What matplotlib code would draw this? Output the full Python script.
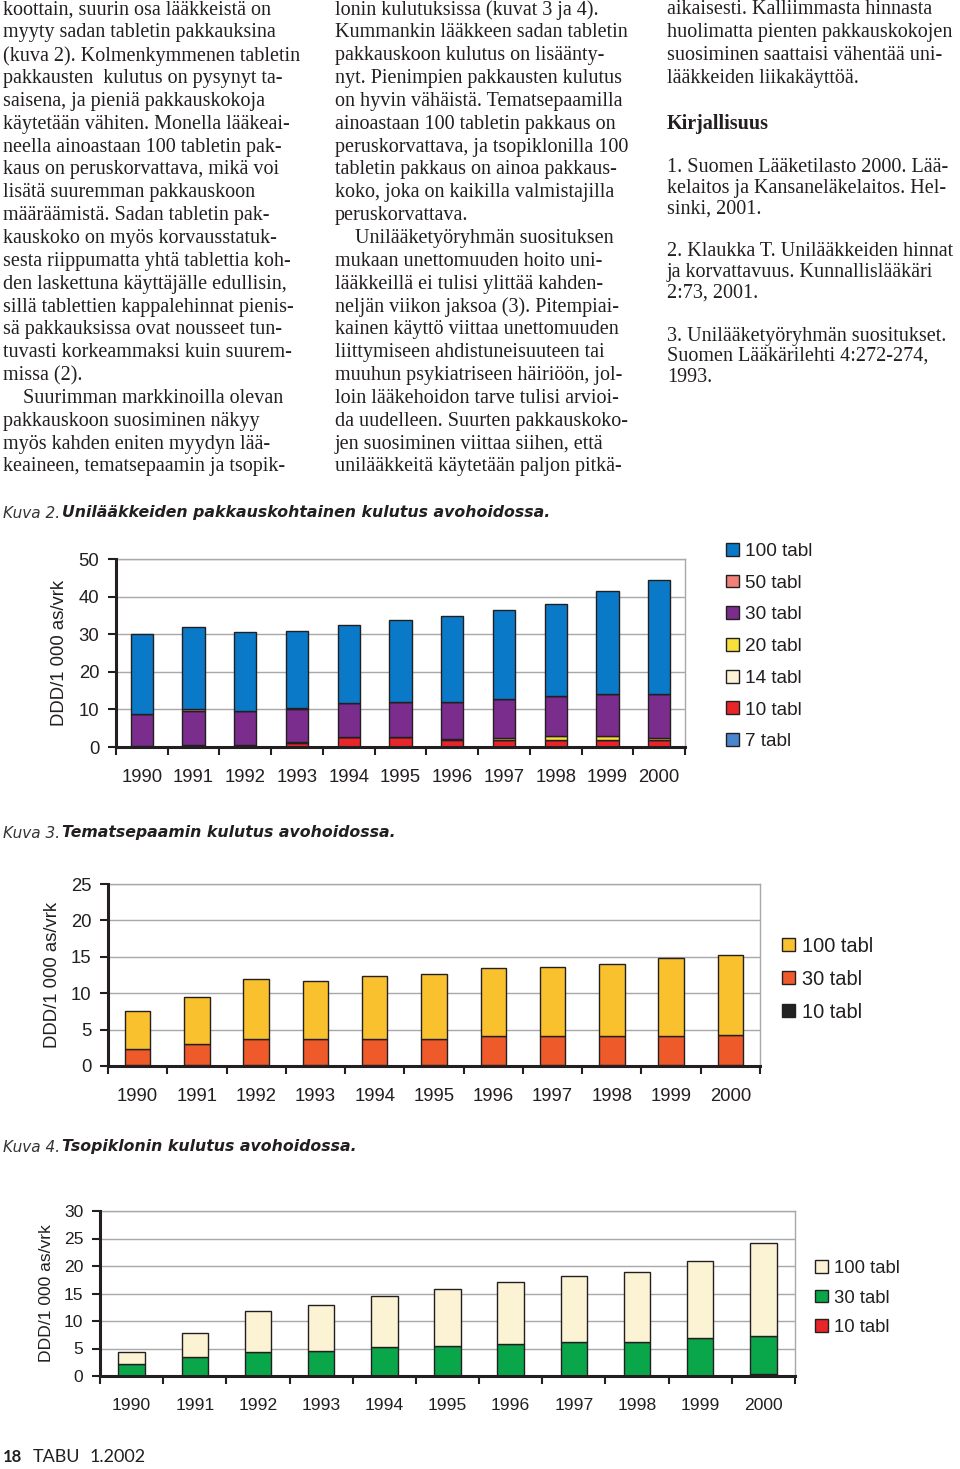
import matplotlib
matplotlib.use("Agg")
import numpy as np
import matplotlib.pyplot as plt
from matplotlib.patches import Patch

# Page size in pixels
W, H = 960, 1469

YEARS = ["1990", "1991", "1992", "1993", "1994", "1995", "1996", "1997", "1998", "1999", "2000"]

# Kuva 2 - stacked from the bottom: 7, 10, 14, 20, 30, 50, 100 tabl
K2_7 = [0, 0, 0, 0, 0, 0, 0, 0, 0, 0, 0]
K2_10 = [0.2, 0.4, 0.4, 1.0, 2.7, 2.7, 1.8, 1.8, 1.8, 1.8, 1.8]
K2_14 = [0, 0, 0, 0.2, 0, 0, 0.4, 0, 0, 0, 0]
K2_20 = [0, 0, 0, 0, 0, 0, 0, 0.6, 1.2, 1.2, 0.7]
K2_30 = [8.6, 9.2, 9.2, 8.8, 8.9, 9.3, 9.8, 10.4, 10.6, 11.0, 11.5]
K2_50 = [0, 0.4, 0, 0.4, 0, 0, 0, 0, 0, 0, 0]
K2_100 = [21.2, 22.0, 20.9, 20.5, 20.8, 21.7, 22.8, 23.6, 24.4, 27.6, 30.4]
K2_LABELS = ["7 tabl", "10 tabl", "14 tabl", "20 tabl", "30 tabl", "50 tabl", "100 tabl"]
K2_COLORS = ["#4a86d0", "#e8262a", "#fcf3d6", "#f7e03a", "#7a2d8c", "#f08078", "#0a79c8"]

# Kuva 3 - tematsepaami
K3_10 = [0.1, 0.1, 0.1, 0.1, 0.1, 0.1, 0.1, 0.1, 0.1, 0.1, 0.1]
K3_30 = [2.3, 2.9, 3.6, 3.6, 3.6, 3.6, 4.0, 4.0, 4.0, 4.0, 4.2]
K3_100 = [5.2, 6.5, 8.2, 8.0, 8.6, 9.0, 9.3, 9.5, 9.9, 10.8, 11.0]
K3_LABELS = ["10 tabl", "30 tabl", "100 tabl"]
K3_COLORS = ["#222222", "#ef5a2b", "#f9c12e"]

# Kuva 4 - tsopikloni
K4_10 = [0, 0, 0, 0, 0, 0, 0, 0, 0, 0, 0.4]
K4_30 = [2.1, 3.4, 4.4, 4.6, 5.2, 5.4, 5.9, 6.2, 6.2, 7.0, 6.9]
K4_100 = [2.3, 4.4, 7.5, 8.3, 9.3, 10.4, 11.2, 11.9, 12.7, 14.0, 16.8]
K4_LABELS = ["10 tabl", "30 tabl", "100 tabl"]
K4_COLORS = ["#e8262a", "#0aa64a", "#fbf3d4"]

COL1 = [
    "koottain, suurin osa lääkkeistä on",
    "myyty sadan tabletin pakkauksina",
    "(kuva 2). Kolmenkymmenen tabletin",
    "pakkausten  kulutus on pysynyt ta-",
    "saisena, ja pieniä pakkauskokoja",
    "käytetään vähiten. Monella lääkeai-",
    "neella ainoastaan 100 tabletin pak-",
    "kaus on peruskorvattava, mikä voi",
    "lisätä suuremman pakkauskoon",
    "määräämistä. Sadan tabletin pak-",
    "kauskoko on myös korvausstatuk-",
    "sesta riippumatta yhtä tablettia koh-",
    "den laskettuna käyttäjälle edullisin,",
    "sillä tablettien kappalehinnat pienis-",
    "sä pakkauksissa ovat nousseet tun-",
    "tuvasti korkeammaksi kuin suurem-",
    "missa (2).",
    "    Suurimman markkinoilla olevan",
    "pakkauskoon suosiminen näkyy",
    "myös kahden eniten myydyn lää-",
    "keaineen, tematsepaamin ja tsopik-",
]
COL2 = [
    "lonin kulutuksissa (kuvat 3 ja 4).",
    "Kummankin lääkkeen sadan tabletin",
    "pakkauskoon kulutus on lisäänty-",
    "nyt. Pienimpien pakkausten kulutus",
    "on hyvin vähäistä. Tematsepaamilla",
    "ainoastaan 100 tabletin pakkaus on",
    "peruskorvattava, ja tsopiklonilla 100",
    "tabletin pakkaus on ainoa pakkaus-",
    "koko, joka on kaikilla valmistajilla",
    "peruskorvattava.",
    "    Unilääketyöryhmän suosituksen",
    "mukaan unettomuuden hoito uni-",
    "lääkkeillä ei tulisi ylittää kahden-",
    "neljän viikon jaksoa (3). Pitempiai-",
    "kainen käyttö viittaa unettomuuden",
    "liittymiseen ahdistuneisuuteen tai",
    "muuhun psykiatriseen häiriöön, jol-",
    "loin lääkehoidon tarve tulisi arvioi-",
    "da uudelleen. Suurten pakkauskoko-",
    "jen suosiminen viittaa siihen, että",
    "unilääkkeitä käytetään paljon pitkä-",
]
COL3 = [
    (10, "aikaisesti. Kalliimmasta hinnasta", "normal"),
    (33, "huolimatta pienten pakkauskokojen", "normal"),
    (56, "suosiminen saattaisi vähentää uni-", "normal"),
    (79, "lääkkeiden liikakäyttöä.", "normal"),
    (124, "Kirjallisuus", "bold"),
    (167, "1. Suomen Lääketilasto 2000. Lää-", "normal"),
    (188, "kelaitos ja Kansaneläkelaitos. Hel-", "normal"),
    (209, "sinki, 2001.", "normal"),
    (251, "2. Klaukka T. Unilääkkeiden hinnat", "normal"),
    (272, "ja korvattavuus. Kunnallislääkäri", "normal"),
    (293, "2:73, 2001.", "normal"),
    (336, "3. Unilääketyöryhmän suositukset.", "normal"),
    (356, "Suomen Lääkärilehti 4:272-274,", "normal"),
    (377, "1993.", "normal"),
]

SERIF = "Liberation Serif"
SANS = "Liberation Sans"
TEXT_COLOR = "#231f20"
BODY_SIZE = 14.5


def fx(x):
    return x / W


def fy(y):
    return 1 - y / H


def add_axes_px(fig, left, top, right, bottom):
    return fig.add_axes([fx(left), fy(bottom), (right - left) / W, (bottom - top) / H])


def draw_body_text(fig):
    for i, line in enumerate(COL1):
        fig.text(fx(3), fy(10 + i * 22.85), line, family=SERIF, fontsize=BODY_SIZE,
                 color=TEXT_COLOR, va="center", ha="left")
    for i, line in enumerate(COL2):
        fig.text(fx(335), fy(10 + i * 22.85), line, family=SERIF, fontsize=BODY_SIZE,
                 color=TEXT_COLOR, va="center", ha="left")
    for y, line, weight in COL3:
        fig.text(fx(667), fy(y), line, family=SERIF, fontsize=BODY_SIZE, weight=weight,
                 color=TEXT_COLOR, va="center", ha="left")


def draw_caption(fig, y, num, title):
    fig.text(fx(3), fy(y), f"Kuva {num}.", family="DejaVu Sans", style="italic",
             fontsize=11, color="#333333", va="center")
    fig.text(fx(62), fy(y), title, family="DejaVu Sans", style="italic", weight="bold",
             fontsize=11.3, color=TEXT_COLOR, va="center")


def stacked_chart(fig, box, series, colors, labels, ymax, ystep, bar_width,
                  tick_px, legend_px, ylabel_x, legend_xy, legend_gap):
    left, top, right, bottom = box
    ax = add_axes_px(fig, left, top, right, bottom)
    x = np.arange(len(YEARS))
    base = np.zeros(len(YEARS))
    handles = []
    for vals, color, label in zip(series, colors, labels):
        vals = np.array(vals, dtype=float)
        ax.bar(x, vals, bar_width, bottom=base, color=color, edgecolor="#231f20",
               linewidth=1.0, zorder=3)
        base += vals
        handles.append(Patch(facecolor=color, edgecolor="#231f20", linewidth=1.0, label=label))

    fs = tick_px * 0.72
    ax.set_xlim(-0.5, len(YEARS) - 0.5)
    ax.set_ylim(0, ymax)
    ax.set_yticks(np.arange(0, ymax + 0.1, ystep))
    ax.set_yticklabels([str(int(v)) for v in np.arange(0, ymax + 0.1, ystep)],
                       family=SANS, fontsize=fs, color=TEXT_COLOR)
    ax.tick_params(axis="y", direction="out", length=6, width=1.5, color="#231f20", pad=6)

    ax.set_xticks(np.arange(-0.5, len(YEARS)), minor=False)
    ax.set_xticklabels([])
    ax.set_xticks(x, minor=True)
    ax.set_xticklabels(YEARS, minor=True, family=SANS, fontsize=fs, color=TEXT_COLOR)
    ax.tick_params(axis="x", which="major", direction="out", length=6, width=1.5,
                   color="#231f20")
    ax.tick_params(axis="x", which="minor", length=0, pad=16)

    ax.grid(axis="y", color="#a8a8a8", linewidth=1.0, zorder=0)
    ax.set_axisbelow(True)
    for side in ("left", "bottom"):
        ax.spines[side].set_color("#231f20")
        ax.spines[side].set_linewidth(2.2)
        ax.spines[side].set_zorder(4)
    for side in ("top", "right"):
        ax.spines[side].set_color("#a8a8a8")
        ax.spines[side].set_linewidth(1.0)

    fig.text(fx(ylabel_x), fy((top + bottom) / 2), "DDD/1 000 as/vrk", family=SANS,
             fontsize=fs, rotation=90, ha="center", va="center", color=TEXT_COLOR)

    # legend: squares about 12 px, order reversed like the original
    lfs = legend_px * 0.72
    hl = 12.5 / legend_px
    fig.legend(handles[::-1], labels[::-1], loc="upper left",
               bbox_to_anchor=(fx(legend_xy[0]), fy(legend_xy[1])), frameon=False,
               prop={"family": SANS, "size": lfs}, handlelength=hl, handleheight=hl,
               handletextpad=0.35, labelspacing=legend_gap, borderpad=0, borderaxespad=0,
               labelcolor=TEXT_COLOR)
    return ax


def main():
    fig = plt.figure(figsize=(W / 100, H / 100), dpi=100)
    fig.patch.set_facecolor("white")

    draw_body_text(fig)

    draw_caption(fig, 513, 2, "Unilääkkeiden pakkauskohtainen kulutus avohoidossa.")
    stacked_chart(fig, (116, 559, 685, 747),
                  [K2_7, K2_10, K2_14, K2_20, K2_30, K2_50, K2_100],
                  K2_COLORS, K2_LABELS, 50, 10, 0.43, 18.5, 19, 60, (726, 543), 0.77)

    draw_caption(fig, 833, 3, "Tematsepaamin kulutus avohoidossa.")
    stacked_chart(fig, (108, 884, 760, 1066),
                  [K3_10, K3_30, K3_100],
                  K3_COLORS, K3_LABELS, 25, 5, 0.43, 18.5, 20, 53, (782, 937), 0.7)

    draw_caption(fig, 1147, 4, "Tsopiklonin kulutus avohoidossa.")
    stacked_chart(fig, (100, 1211, 795, 1376),
                  [K4_10, K4_30, K4_100],
                  K4_COLORS, K4_LABELS, 30, 5, 0.42, 17.5, 18.5, 47, (815, 1260), 0.68)

    fig.text(fx(3), fy(1457), "18", family="Lato", weight="bold", fontsize=12,
             color=TEXT_COLOR, va="center")
    fig.text(fx(33), fy(1457), "TABU", family="Lato", fontsize=13,
             color=TEXT_COLOR, va="center")
    fig.text(fx(90), fy(1457), "1.2002", family="Lato", fontsize=13,
             color=TEXT_COLOR, va="center")

    fig.savefig("out.png", dpi=100)


if __name__ == "__main__":
    main()
